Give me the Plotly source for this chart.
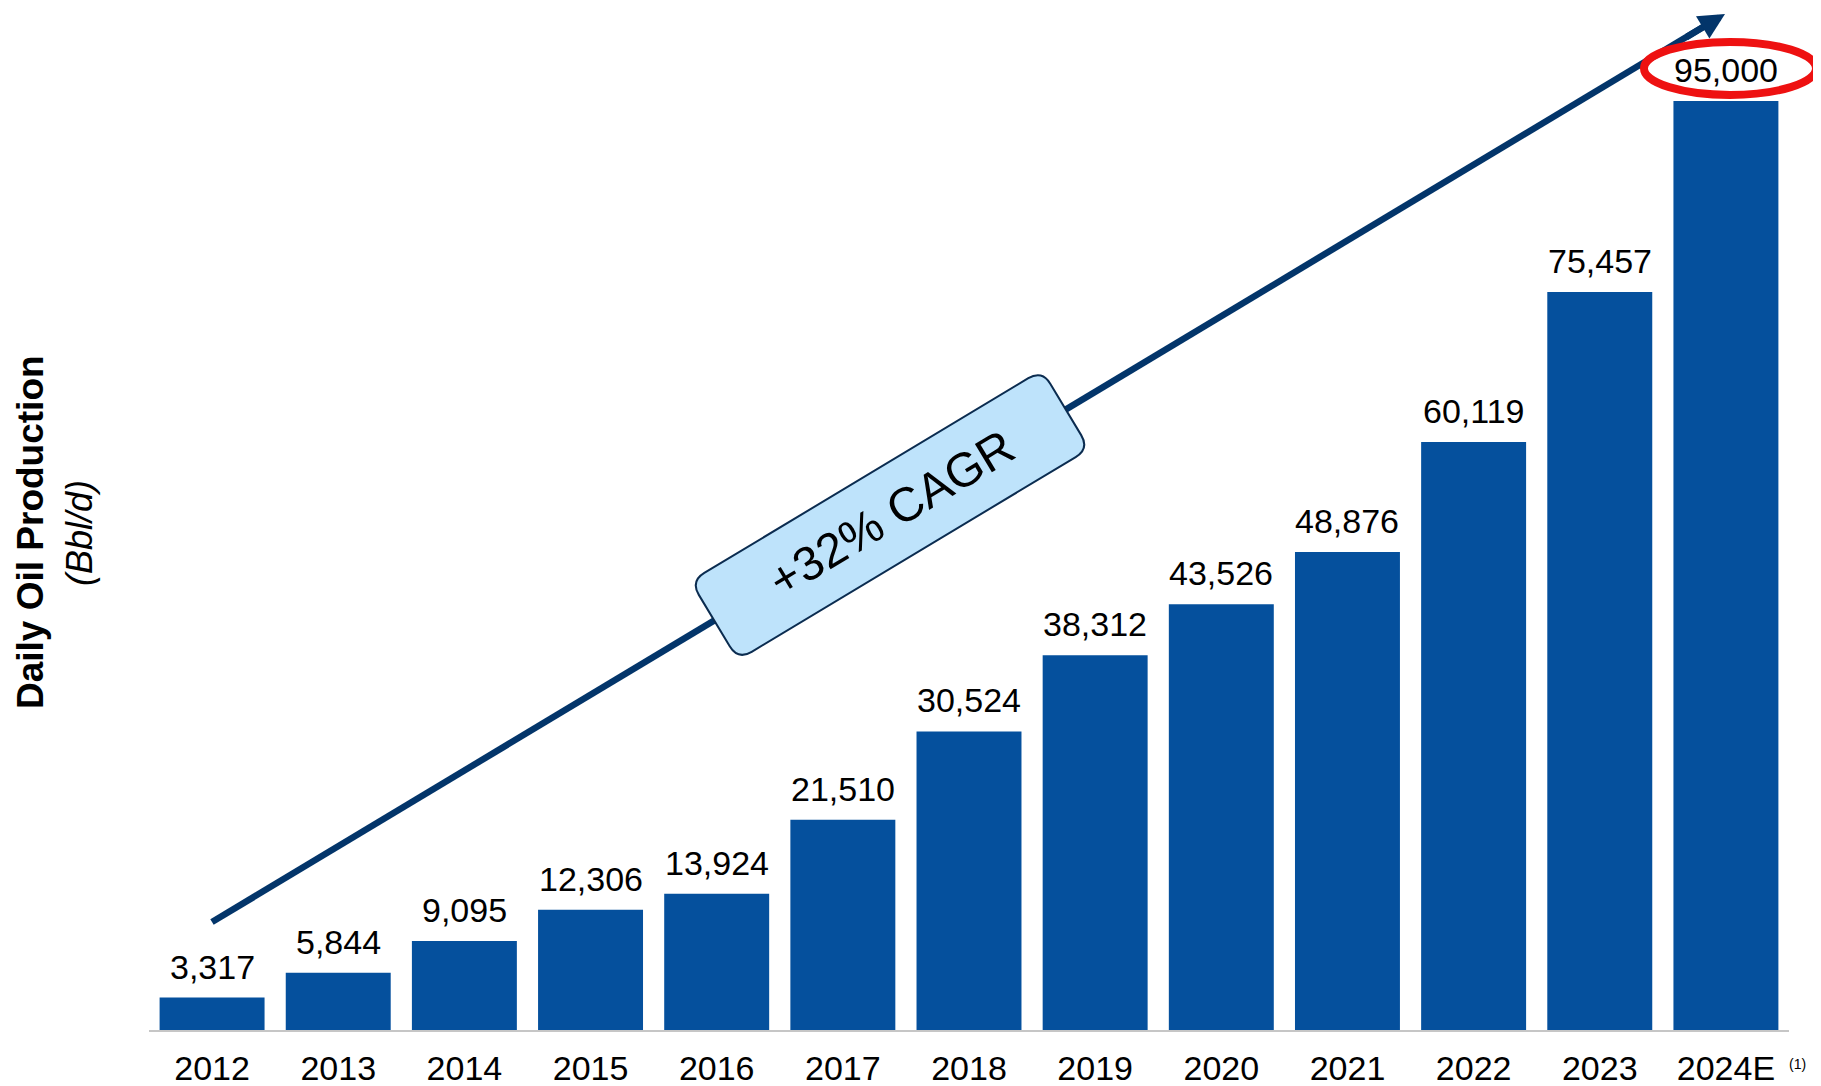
import math
import plotly.graph_objects as go

# 数据
years = ['2012', '2013', '2014', '2015', '2016', '2017', '2018',
         '2019', '2020', '2021', '2022', '2023', '2024E']
production = [3317, 5844, 9095, 12306, 13924, 21510, 30524,
              38312, 43526, 48876, 60119, 75457, 95000]
cagr_text = '+32% CAGR'

# 画布与绘图区（参考图像素坐标）
W, H = 1821, 1086
L, R, T, B = 149, 32, 10, 56
PW, PH = W - L - R, H - T - B
OFF = 8  # 页面 body 默认 8px 边距
PX_PER_UNIT = 0.00978

FONT = 'Liberation Sans, Arial, sans-serif'
BAR_COLOR = '#05509d'
NAVY = '#03356a'


def to_paper(px, py):
    """像素坐标 -> paper 坐标"""
    return (px - L) / PW, (H - B - py) / PH


def rounded_box(cx, cy, hl, hw, r, angle):
    """旋转的圆角矩形路径（paper 坐标）"""
    a = math.radians(angle)
    ux, uy = math.cos(a), -math.sin(a)
    nx, ny = math.sin(a), math.cos(a)

    def pt(s, t):
        x, y = to_paper(cx + s * ux + t * nx, cy + s * uy + t * ny)
        return f'{x:.5f},{y:.5f}'

    return (f'M{pt(-hl + r, -hw)} L{pt(hl - r, -hw)} Q{pt(hl, -hw)} {pt(hl, -hw + r)} '
            f'L{pt(hl, hw - r)} Q{pt(hl, hw)} {pt(hl - r, hw)} '
            f'L{pt(-hl + r, hw)} Q{pt(-hl, hw)} {pt(-hl, hw - r)} '
            f'L{pt(-hl, -hw + r)} Q{pt(-hl, -hw)} {pt(-hl + r, -hw)} Z')


fig = go.Figure()

fig.add_trace(go.Bar(
    x=years,
    y=production,
    marker=dict(color=BAR_COLOR, line=dict(width=0)),
    hovertemplate='%{x}: %{y:,}<extra></extra>',
))

# 数据标签（类别轴用索引定位）
annotations = []
for i, val in enumerate(production):
    annotations.append(dict(
        x=i, y=val, xref='x', yref='y',
        text=f'{val:,}', showarrow=False,
        yanchor='bottom', yshift=10,
        font=dict(family=FONT, size=34, color='black'),
    ))

# 增长箭头
x0, y0 = to_paper(212, 922)
x1, y1 = to_paper(1708, 24)
shapes = [
    dict(type='line', xref='paper', yref='paper', x0=x0, y0=y0, x1=x1, y1=y1,
         line=dict(color=NAVY, width=6.5)),
    dict(type='path', xref='paper', yref='paper',
         path=rounded_box(890, 515, 205, 46, 16, 31),
         fillcolor='#bee3fb', line=dict(color='#0b2c50', width=2)),
]
tx, ty = to_paper(1725, 14)
annotations.append(dict(
    x=tx, y=ty, xref='paper', yref='paper', text='',
    showarrow=True, ax=-40, ay=24, arrowhead=2, arrowsize=0.8,
    arrowwidth=6.5, arrowcolor=NAVY, standoff=0,
))

cx, cy = to_paper(891, 513)
annotations.append(dict(
    x=cx, y=cy, xref='paper', yref='paper', text=cagr_text,
    showarrow=False, textangle=-31, xanchor='center', yanchor='middle',
    font=dict(family=FONT, size=48, color='black'),
))

# 红色圈注（围绕 2024E 标签）
top_px = H - B - production[-1] * PX_PER_UNIT
ex0, ey0 = to_paper(1644, top_px - 6)
ex1, ey1 = to_paper(1816, top_px - 59)
shapes.append(dict(type='circle', xref='paper', yref='paper',
                   x0=ex0, y0=ey0, x1=ex1, y1=ey1,
                   line=dict(color='#ee1111', width=8)))

# Y 轴标题
ax_, ay_ = to_paper(30, 532)
annotations.append(dict(
    x=ax_, y=ay_, xref='paper', yref='paper',
    text='<b>Daily Oil Production</b>', showarrow=False, textangle=-90,
    xanchor='center', yanchor='middle',
    font=dict(family=FONT, size=37, color='black'),
))
ax_, ay_ = to_paper(79, 533)
annotations.append(dict(
    x=ax_, y=ay_, xref='paper', yref='paper',
    text='<i>(Bbl/d)</i>', showarrow=False, textangle=-90,
    xanchor='center', yanchor='middle',
    font=dict(family=FONT, size=36, color='black'),
))

# 脚注
fx, fy = to_paper(1797, 1064)
annotations.append(dict(
    x=fx, y=fy, xref='paper', yref='paper', text='(1)', showarrow=False,
    xanchor='center', yanchor='middle',
    font=dict(family=FONT, size=14, color='black'),
))

fig.update_layout(
    width=W - OFF, height=H - OFF,
    margin=dict(l=L - OFF, r=R, t=T - OFF, b=B, autoexpand=False),
    plot_bgcolor='white', paper_bgcolor='white',
    bargap=0.168,
    showlegend=False,
    xaxis=dict(
        type='category', range=[-0.5, len(years) - 0.5],
        automargin=False,
        showline=True, linecolor='#c6c6c6', linewidth=2,
        ticks='outside', ticklen=7, tickcolor='rgba(0,0,0,0)',
        showgrid=False, zeroline=False,
        tickfont=dict(family=FONT, size=34, color='black'),
    ),
    yaxis=dict(
        range=[0, PH / PX_PER_UNIT],
        visible=False, showgrid=False, zeroline=False,
    ),
    shapes=shapes,
    annotations=annotations,
)

fig.write_html('out.html')
